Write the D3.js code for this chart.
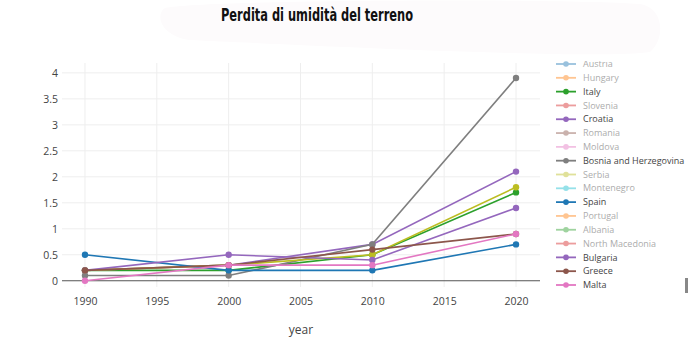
<!DOCTYPE html>
<html><head><meta charset="utf-8">
<script src="https://cdn.jsdelivr.net/npm/d3@7/dist/d3.min.js"></script>
<style>
html,body{margin:0;padding:0;background:#fff;}
svg{display:block;font-family:"Open Sans","Noto Sans",sans-serif;}
</style></head>
<body>
<svg id="chart" width="700" height="345"></svg>
<script>
const title = "Perdita di umidità del terreno";
const xLabel = "year";
const years = [1990, 2000, 2010, 2020];
const xTicks = [1990, 1995, 2000, 2005, 2010, 2015, 2020];
const yTicks = [0, 0.5, 1, 1.5, 2, 2.5, 3, 3.5, 4];
const countries = ["Austria","Hungary","Italy","Slovenia","Croatia","Romania","Moldova",
  "Bosnia and Herzegovina","Serbia","Montenegro","Spain","Portugal","Albania",
  "North Macedonia","Bulgaria","Greece","Malta"];
const legendFaded = ["Austria","Hungary","Slovenia","Romania","Moldova","Serbia",
  "Montenegro","Portugal","Albania","North Macedonia"];
// series values (1990, 2000, 2010, 2020)
const italy = [0.2, 0.2, 0.5, 1.7];
const croatia = [0.2, 0.3, 0.7, 2.1];
const bosnia = [0.1, 0.1, 0.7, 3.9];
const serbia = [0.2, 0.3, 0.5, 1.8];
const spain = [0.5, 0.2, 0.2, 0.7];
const bulgaria = [0.2, 0.5, 0.4, 1.4];
const greece = [0.2, 0.3, 0.6, 0.9];
const malta = [0.0, 0.3, 0.3, 0.9];

const seriesData = new Map([
  ["Italy", italy], ["Croatia", croatia], ["Bosnia and Herzegovina", bosnia],
  ["Serbia", serbia], ["Spain", spain], ["Bulgaria", bulgaria],
  ["Greece", greece], ["Malta", malta]
]);

const palette = d3.schemeCategory10;
const colorOf = name => palette[countries.indexOf(name) % 10];

const svg = d3.select("#chart");

// faint background highlight behind the title
svg.append("path")
  .attr("d", "M165,8 C200,0 560,-2 640,4 C665,8 665,40 650,52 C600,60 300,45 190,40 C160,36 155,14 165,8 Z")
  .attr("fill", "#fdfbfc");

svg.append("text")
  .attr("x", 317).attr("y", 21)
  .attr("text-anchor", "middle")
  .attr("font-family", "'DejaVu Sans Condensed','Liberation Sans Narrow',sans-serif")
  .attr("font-weight", "bold")
  .attr("font-size", 18)
  .attr("textLength", 192)
  .attr("lengthAdjust", "spacingAndGlyphs")
  .attr("fill", "#111")
  .text(title);

const x = d3.scaleLinear().domain([1988.4, 2021.67]).range([62, 540]);
const y = d3.scaleLinear().domain([-0.12, 4.19]).range([287, 63]);

const g = svg.append("g");

// grid
g.append("g").selectAll("line").data(xTicks).join("line")
  .attr("x1", d => x(d)).attr("x2", d => x(d))
  .attr("y1", y.range()[1]).attr("y2", y.range()[0])
  .attr("stroke", "#eeeeee").attr("stroke-width", 1);
g.append("g").selectAll("line").data(yTicks.filter(d => d !== 0)).join("line")
  .attr("x1", x.range()[0]).attr("x2", x.range()[1])
  .attr("y1", d => y(d)).attr("y2", d => y(d))
  .attr("stroke", "#eeeeee").attr("stroke-width", 1);
// zero line
g.append("line")
  .attr("x1", x.range()[0]).attr("x2", x.range()[1])
  .attr("y1", y(0)).attr("y2", y(0))
  .attr("stroke", "#555").attr("stroke-width", 1.2);

// axes (labels only)
const xAxis = d3.axisBottom(x).tickValues(xTicks).tickFormat(d3.format("d")).tickSize(0).tickPadding(0);
const xg = g.append("g").attr("transform", "translate(0,298)").call(xAxis);
xg.select(".domain").remove();
xg.selectAll("text").attr("fill", "#444").attr("font-size", 10.5)
  .attr("font-family", "'Open Sans',sans-serif").attr("dy", "0.71em");

const yAxis = d3.axisLeft(y).tickValues(yTicks).tickFormat(d => String(d)).tickSize(0).tickPadding(0);
const yg = g.append("g").attr("transform", "translate(58,0)").call(yAxis);
yg.select(".domain").remove();
yg.selectAll("text").attr("fill", "#444").attr("font-size", 10.5)
  .attr("font-family", "'Open Sans',sans-serif");

svg.append("text").attr("x", 301).attr("y", 334).attr("text-anchor", "middle")
  .attr("fill", "#444").attr("font-size", 12).text(xLabel);

// series
const line = d3.line().x((d, i) => x(years[i])).y(d => y(d));
const series = Array.from(seriesData, ([name, vals]) => ({name, vals}));
const sg = g.append("g").selectAll("g").data(series).join("g");
sg.append("path").attr("d", d => line(d.vals)).attr("fill", "none")
  .attr("stroke", d => colorOf(d.name)).attr("stroke-width", 1.6);
sg.selectAll("circle").data(d => d.vals.map((v, i) => ({v, i, name: d.name}))).join("circle")
  .attr("cx", d => x(years[d.i])).attr("cy", d => y(d.v)).attr("r", 3.2)
  .attr("fill", d => colorOf(d.name));

// legend
svg.append("clipPath").attr("id", "legclip").append("rect")
  .attr("x", 545).attr("y", 61).attr("width", 155).attr("height", 240);
const ly = d3.scalePoint().domain(countries).range([64, 285]);
const lg = svg.append("g").attr("clip-path", "url(#legclip)")
  .selectAll("g").data(countries).join("g")
  .attr("transform", d => `translate(0,${ly(d)})`)
  .attr("opacity", d => legendFaded.includes(d) ? 0.45 : 1);
lg.append("line").attr("x1", 556).attr("x2", 576).attr("y1", 0).attr("y2", 0)
  .attr("stroke", d => colorOf(d)).attr("stroke-width", 1.8);
lg.append("circle").attr("cx", 566).attr("cy", 0).attr("r", 2.8).attr("fill", d => colorOf(d));
lg.append("text").attr("x", 583).attr("y", 0).attr("dy", "0.35em")
  .attr("font-size", 9).attr("fill", "#444").text(d => d);

// small cursor mark at right
svg.append("rect").attr("x", 685).attr("y", 278).attr("width", 3).attr("height", 15).attr("fill", "#888");
</script>
</body></html>
